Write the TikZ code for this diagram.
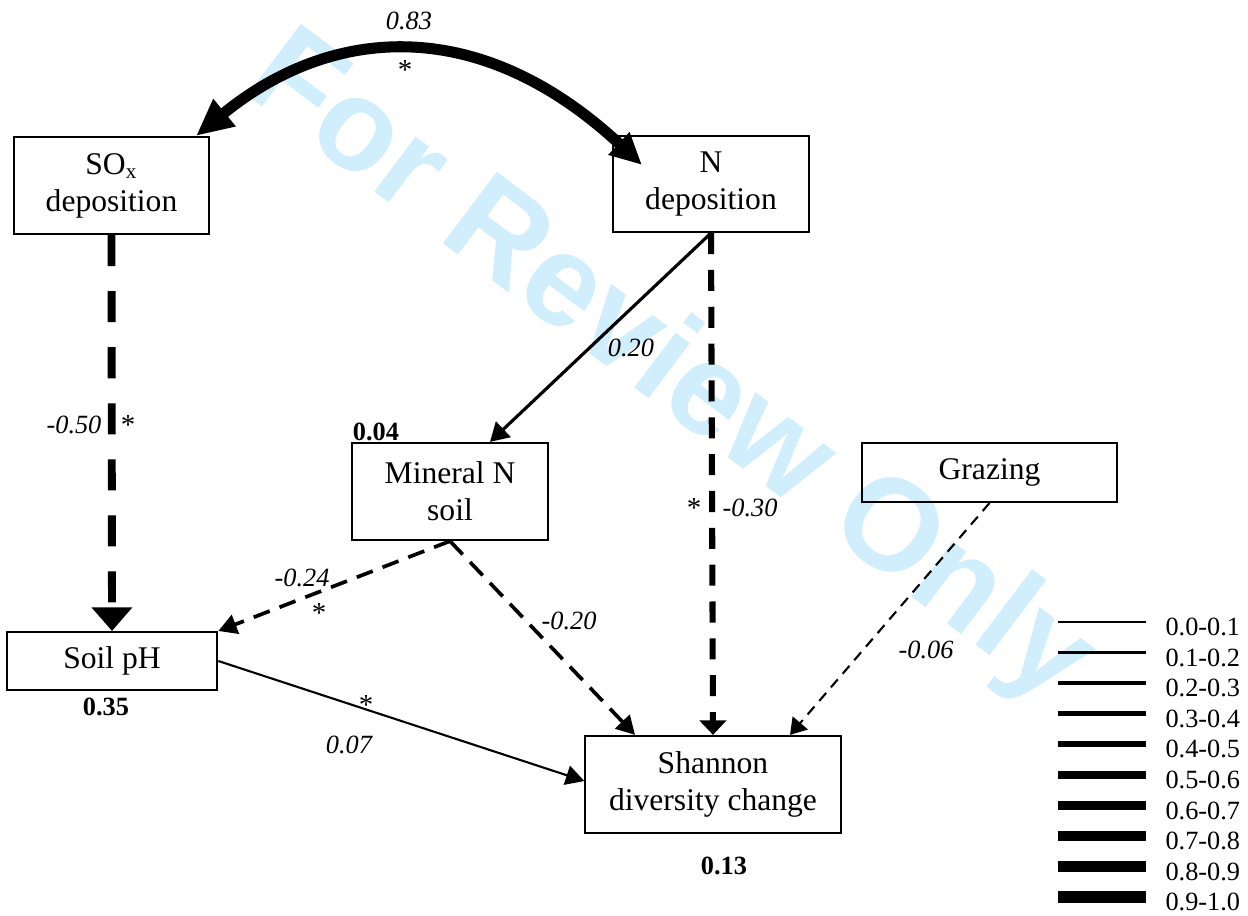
\documentclass[tikz,border=0pt]{standalone}
\usepackage{fontspec}
\setmainfont{Liberation Serif}
\newfontfamily\wmfont{Liberation Sans}
\usetikzlibrary{arrows.meta,calc}
\definecolor{wmblue}{RGB}{208,238,252}

\begin{document}
\begin{tikzpicture}[x=0.38pt, y=-0.38pt,
    box/.style={draw, line width=0.8pt, align=center, inner sep=0pt,
      font=\fontsize{12}{14}\selectfont},
    lbl/.style={font=\itshape\fontsize{10}{12}\selectfont, inner sep=0pt},
    rsq/.style={font=\bfseries\fontsize{10}{12}\selectfont, inner sep=0pt},
    star/.style={font=\fontsize{11}{12}\selectfont, inner sep=0pt}]
  \useasboundingbox (0,0) rectangle (1248,916);
  % watermark
  \node[text=wmblue, rotate=-37, inner sep=0pt,
    font=\wmfont\bfseries\fontsize{49.5}{50}\selectfont] (wm) at (668,371) {For Review Only};

  % variables
  \node[box, minimum width=74.1pt, minimum height=36.9pt] (soxdep) at (111.5,185.5) {SO\textsubscript{x}\\deposition};
  \node[box, minimum width=74.5pt, minimum height=36.5pt] (ndep) at (711,184) {N\\deposition};
  \node[box, minimum width=74.5pt, minimum height=36.9pt] (mineral) at (450,491.5) {Mineral N\\soil};
  \node[box, minimum width=80pt, minimum height=22pt] (soilph) at (112,661) {Soil pH};
  \node[box, minimum width=97pt, minimum height=36.9pt] (shannon) at (713,784.5) {Shannon\\diversity change};
  \node[box, minimum width=97pt, minimum height=22.4pt] (grazing) at (989.5,472.5) {Grazing};

  % explained variance
  \node[rsq] (r2min) at (376,432) {0.04};
  \node[rsq] (r2ph) at (106,707) {0.35};
  \node[rsq] (r2sh) at (724,866) {0.13};

  % paths
  \draw[line width=4.2pt, {Triangle[length=14pt,width=12.5pt]}-{Triangle[length=12pt,width=11pt]}]
    ($(soxdep.north east)+(-14,0)$) .. controls (333,24) and (481,15) .. ($(ndep.north west)+(30,30)$);
  \node[lbl] at (409,21) {0.83};
  \node[star] at (405,70) {*};

  \draw[line width=3pt, dash pattern=on 11.8pt off 9.5pt, -{Triangle[length=9pt,width=15pt]}]
    (soxdep.south) -- (soilph.north);
  \node[lbl] at (74,425) {-0.50};
  \node[star] at (128,425) {*};

  \draw[line width=1.2pt, -{Triangle[length=7pt,width=8pt]}] (ndep.south) -- ($(mineral.north)+(40,0)$);
  \node[lbl] at (631,348) {0.20};

  \draw[line width=2.3pt, dash pattern=on 8pt off 6pt, -{Triangle[length=5.5pt,width=10pt]}]
    (ndep.south) -- (shannon.north);
  \node[star] at (694,508) {*};
  \node[lbl] at (750,508) {-0.30};

  \draw[line width=1.4pt, dash pattern=on 6.5pt off 4pt, -{Triangle[length=7pt,width=7.5pt]}]
    (mineral.south) -- (soilph.north east);
  \node[lbl] at (302,578) {-0.24};
  \node[star] at (319,613) {*};

  \draw[line width=1.4pt, dash pattern=on 7pt off 4pt, -{Triangle[length=7pt,width=7.5pt]}]
    (mineral.south) -- ($(shannon.north)+(-78,0)$);
  \node[lbl] at (569,621) {-0.20};

  \draw[line width=0.8pt, dash pattern=on 4pt off 2.8pt, -{Triangle[length=6pt,width=7.5pt]}]
    (grazing.south) -- ($(shannon.north)+(77,0)$);
  \node[lbl] at (926,650) {-0.06};

  \draw[line width=0.8pt, -{Triangle[length=7pt,width=7.5pt]}] (soilph.east) -- ($(shannon.west)+(0,-3.5)$);
  \node[star] at (366,705) {*};
  \node[lbl] at (349,745) {0.07};

  % legend
  \foreach \lab [count=\i from 0] in {0.0-0.1,0.1-0.2,0.2-0.3,0.3-0.4,0.4-0.5,0.5-0.6,0.6-0.7,0.7-0.8,0.8-0.9,0.9-1.0} {
    \draw[line width={0.45pt*(\i+1)}] (1058,{622+30.6*\i}) -- (1146,{622+30.6*\i});
    \node[anchor=west, inner sep=0pt, font=\fontsize{10}{12}\selectfont] at (1165,{627+30.6*\i}) {\lab};
  }
\end{tikzpicture}
\end{document}
